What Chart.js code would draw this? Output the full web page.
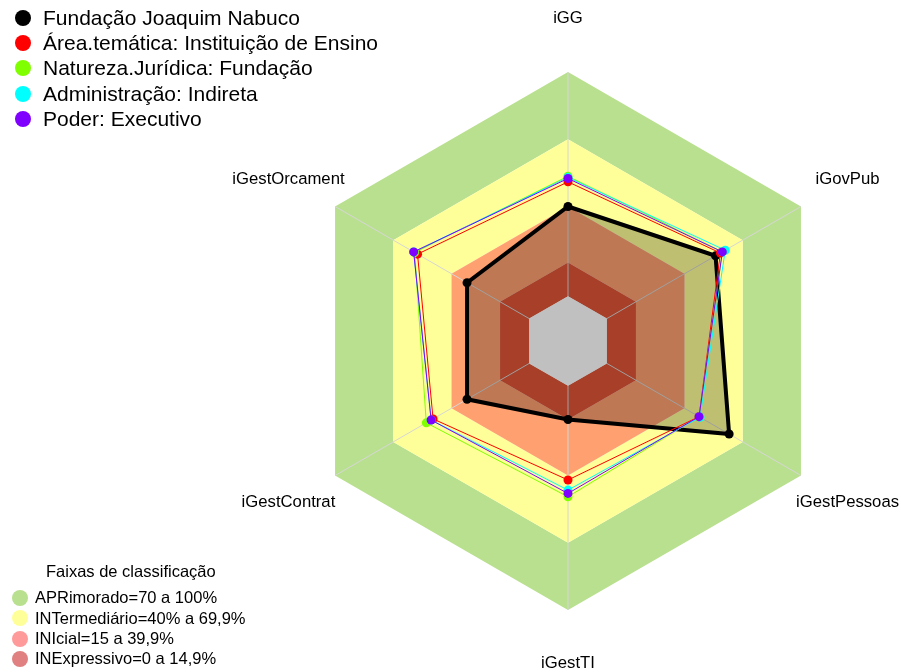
<!DOCTYPE html>
<html><head><meta charset="utf-8">
<script src="https://cdn.jsdelivr.net/npm/chart.js@4.4.1/dist/chart.umd.min.js"></script>
<style>
html,body{margin:0;padding:0;background:#fff;}
#wrap{position:relative;width:901px;height:672px;font-family:"Liberation Sans",Arial,sans-serif;color:#000;}
canvas{position:absolute;left:0;top:0;}
.leg{position:absolute;}
.row{display:flex;align-items:center;white-space:nowrap;}
.dot{border-radius:50%;flex:none;}
#legSeries{left:0;top:5.4px;font-size:21px;}
#legSeries .row{height:25.2px;}
#legSeries .dot{width:16px;height:16px;margin-left:14.7px;margin-right:12.3px;}
#legBands{left:0;top:561px;font-size:16.5px;}
#legBands .title{height:20px;line-height:20px;margin-left:46px;margin-bottom:6.8px;}
#legBands .row{height:20.3px;}
#legBands .dot{width:16px;height:16px;margin-left:12px;margin-right:7px;}
</style></head><body>
<div id="wrap">
<canvas id="c" width="901" height="672"></canvas>
<div id="legSeries" class="leg"></div>
<div id="legBands" class="leg"></div>
</div>
<script>
// ---- data ----
const axes = ['iGG', 'iGovPub', 'iGestPessoas', 'iGestTI', 'iGestContrat', 'iGestOrcament'];
const seriesNames = ['Fundação Joaquim Nabuco', 'Área.temática: Instituição de Ensino', 'Natureza.Jurídica: Fundação', 'Administração: Indireta', 'Poder: Executivo'];
const fundaj = [40, 56, 63, 15, 32, 32];
const areaTematica = [51, 58.5, 47.5, 42, 49.5, 57.5];
const naturezaJuridica = [53.5, 59.5, 47.5, 49.5, 53, 59];
const administracao = [53, 61, 48, 46.5, 50.5, 59.5];
const poder = [52.5, 59.5, 47.5, 48, 50.5, 59.5];
const bandTitle = 'Faixas de classificação';
const bandNames = ['APRimorado=70 a 100%', 'INTermediário=40% a 69,9%', 'INIcial=15 a 39,9%', 'INExpressivo=0 a 14,9%'];
const bandUpper = [100, 70, 40, 15];
const bandLower = [70, 40, 15, 0];
const scaleMin = -20, scaleMax = 100, labelValue = 124;

// ---- styles ----
const seriesColors = ['#000000', '#FF0000', '#80FF00', '#00FFFF', '#8000FF'];
const bandFill = ['#B9E08F', '#FFFF99', '#FFA070', '#E05536'];
const bandLegend = ['#B8E08E', '#FFFF99', '#FF9A9A', '#E08080'];

const seriesData = [fundaj, areaTematica, naturezaJuridica, administracao, poder];
const datasets = [];
seriesData.forEach((d, k) => {
  datasets.push({
    label: seriesNames[k], data: d,
    borderColor: seriesColors[k], borderWidth: k === 0 ? 4 : 1,
    backgroundColor: k === 0 ? 'rgba(0,0,0,0.25)' : 'transparent',
    fill: k === 0 ? 'start' : false,
    pointRadius: 4.5, pointBorderWidth: 0,
    pointBackgroundColor: seriesColors[k], pointHoverRadius: 4.5,
    order: 5 - k
  });
});
// grey center (below value 0)
datasets.push({
  label: 'centro', data: axes.map(() => 0), borderWidth: 0, borderColor: 'transparent',
  backgroundColor: '#C0C0C0', fill: 'start', pointRadius: 0, order: 0
});
const bandStartIndex = datasets.length;
bandUpper.forEach((u, k) => {
  datasets.push({
    label: bandNames[k], data: axes.map(() => u), borderWidth: 0, borderColor: 'transparent',
    backgroundColor: bandFill[k], fill: {value: bandLower[k]}, pointRadius: 0, order: 9 - k
  });
});
const spokeAfterIndex = bandStartIndex + 3; // innermost band (drawn last of bands)

const overlay = {
  id: 'overlay',
  afterDatasetDraw(chart, args) {
    if (args.index !== spokeAfterIndex) return;
    const s = chart.scales.r, ctx = chart.ctx;
    ctx.save();
    ctx.strokeStyle = '#D6D6D6'; ctx.lineWidth = 1;
    for (let i = 0; i < axes.length; i++) {
      const a = s.getPointPositionForValue(i, s.min);
      const b = s.getPointPositionForValue(i, s.max);
      ctx.beginPath(); ctx.moveTo(a.x, a.y); ctx.lineTo(b.x, b.y); ctx.stroke();
    }
    ctx.restore();
  },
  afterDatasetsDraw(chart) {
    const s = chart.scales.r, ctx = chart.ctx;
    ctx.save();
    ctx.font = '16.7px "Liberation Sans", Arial, sans-serif';
    ctx.fillStyle = '#000'; ctx.textAlign = 'center'; ctx.textBaseline = 'middle';
    axes.forEach((lab, i) => {
      const p = s.getPointPositionForValue(i, labelValue);
      ctx.fillText(lab, p.x, p.y);
    });
    ctx.restore();
  }
};

new Chart(document.getElementById('c'), {
  type: 'radar',
  data: {labels: axes, datasets},
  options: {
    responsive: false, animation: false, devicePixelRatio: 1,
    layout: {padding: {left: 299, right: 64, top: 72, bottom: 62}},
    elements: {line: {tension: 0}},
    plugins: {legend: {display: false}, tooltip: {enabled: false}},
    scales: {
      r: {
        min: scaleMin, max: scaleMax, beginAtZero: false,
        ticks: {display: false}, grid: {display: false},
        angleLines: {display: false}, pointLabels: {display: false}
      }
    }
  },
  plugins: [overlay]
});

// ---- HTML legends ----
const ls = document.getElementById('legSeries');
seriesNames.forEach((n, k) => {
  const r = document.createElement('div'); r.className = 'row';
  const d = document.createElement('span'); d.className = 'dot'; d.style.background = seriesColors[k];
  const t = document.createElement('span'); t.textContent = n;
  r.appendChild(d); r.appendChild(t); ls.appendChild(r);
});
const lb = document.getElementById('legBands');
const tt = document.createElement('div'); tt.className = 'title'; tt.textContent = bandTitle; lb.appendChild(tt);
bandNames.forEach((n, k) => {
  const r = document.createElement('div'); r.className = 'row';
  const d = document.createElement('span'); d.className = 'dot'; d.style.background = bandLegend[k];
  const t = document.createElement('span'); t.textContent = n;
  r.appendChild(d); r.appendChild(t); lb.appendChild(r);
});
</script>
</body></html>
